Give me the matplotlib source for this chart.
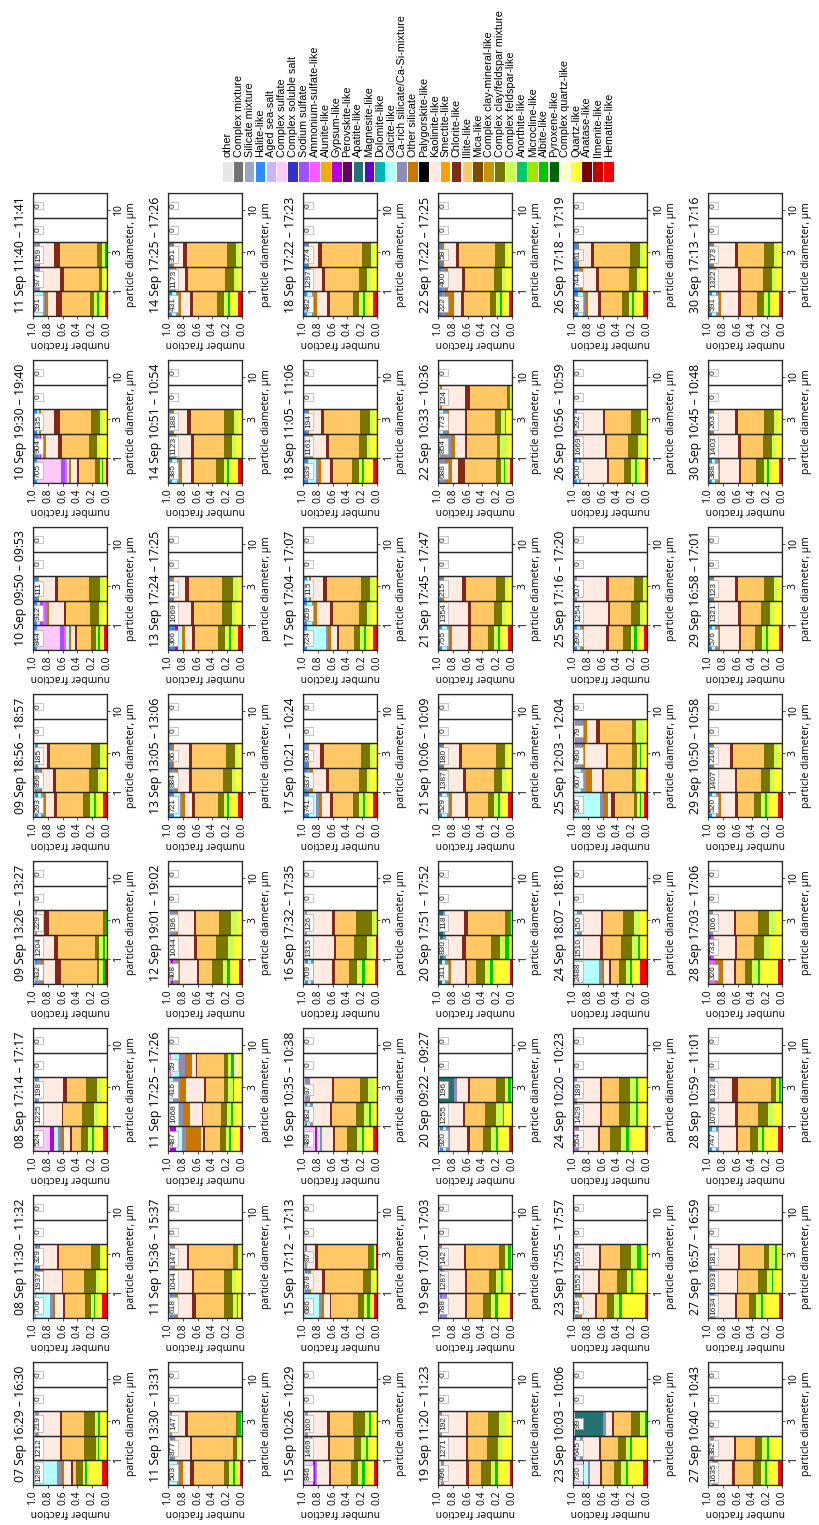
import re
import numpy as np
import matplotlib
matplotlib.use('Agg')
import matplotlib.pyplot as plt
from matplotlib.patches import Rectangle

plt.rcParams['font.family'] = ['Open Sans', 'DejaVu Sans']

# particle classes, legend order (top of each stack first)
categories = ['other', 'Complex mixture', 'Silicate mixture', 'Halite-like', 'Aged sea-salt',
              'Complex sulfate', 'Complex soluble salt', 'Sodium sulfate', 'Ammonium-sulfate-like',
              'Alunite-like', 'Gypsum-like', 'Perovskite-like', 'Apatite-like', 'Magnesite-like',
              'Dolomite-like', 'Calcite-like', 'Ca-rich silicate/Ca-Si-mixture', 'Other silicate',
              'Palygorskite-like', 'Kaolinite-like', 'Smectite-like', 'Chlorite-like', 'Illite-like',
              'Mica-like', 'Complex clay-mineral-like', 'Complex clay/feldspar mixture',
              'Complex feldspar-like', 'Anorthite-like', 'Microcline-like', 'Albite-like',
              'Pyroxene-like', 'Complex quartz-like', 'Quartz-like', 'Anatase-like', 'Ilmenite-like',
              'Hematite-like']
codes = ['oth', 'cmx', 'smx', 'hal', 'ass', 'csu', 'css', 'nas', 'ams', 'alu', 'gyp', 'per', 'apa',
         'mgs', 'dol', 'cal', 'cas', 'osi', 'pal', 'kao', 'sme', 'chl', 'ill', 'mic', 'ccm', 'cfm',
         'cfe', 'ano', 'mcl', 'alb', 'pyr', 'cqz', 'qz', 'ana', 'ilm', 'hem']
colors = ['#e6e6e6', '#737373', '#96aac8', '#2d8cff', '#c8b4ff', '#ffc8ff', '#3232c8', '#a050ff',
          '#ff5aff', '#f5aa14', '#b400e6', '#640064', '#237373', '#6400c8', '#00b4b4', '#b4ffff',
          '#8c8cb4', '#c87800', '#000000', '#ffebe1', '#ffa000', '#822814', '#ffc864', '#7d4b00',
          '#c89600', '#787800', '#c8ff50', '#00c864', '#a0e600', '#00c800', '#006400', '#ffffc8',
          '#ffff32', '#780000', '#c80000', '#ff0000']

bin_edges = [0.5, 1, 2, 4, 8, 16]

# one list per row of the sheet, eight samples each
titles_1 = ['07 Sep 16:29 – 16:30', '08 Sep 11:30 – 11:32', '08 Sep 17:14 – 17:17', '09 Sep 13:26 – 13:27',
            '09 Sep 18:56 – 18:57', '10 Sep 09:50 – 09:53', '10 Sep 19:30 – 19:40', '11 Sep 11:40 – 11:41']
titles_2 = ['11 Sep 13:30 – 13:31', '11 Sep 15:36 – 15:37', '11 Sep 17:25 – 17:26', '12 Sep 19:01 – 19:02',
            '13 Sep 13:05 – 13:06', '13 Sep 17:24 – 17:25', '14 Sep 10:51 – 10:54', '14 Sep 17:25 – 17:26']
titles_3 = ['15 Sep 10:26 – 10:29', '15 Sep 17:12 – 17:13', '16 Sep 10:35 – 10:38', '16 Sep 17:32 – 17:35',
            '17 Sep 10:21 – 10:24', '17 Sep 17:04 – 17:07', '18 Sep 11:05 – 11:06', '18 Sep 17:22 – 17:23']
titles_4 = ['19 Sep 11:20 – 11:23', '19 Sep 17:01 – 17:03', '20 Sep 09:22 – 09:27', '20 Sep 17:51 – 17:52',
            '21 Sep 10:06 – 10:09', '21 Sep 17:45 – 17:47', '22 Sep 10:33 – 10:36', '22 Sep 17:22 – 17:25']
titles_5 = ['23 Sep 10:03 – 10:06', '23 Sep 17:55 – 17:57', '24 Sep 10:20 – 10:23', '24 Sep 18:07 – 18:10',
            '25 Sep 12:03 – 12:04', '25 Sep 17:16 – 17:20', '26 Sep 10:56 – 10:59', '26 Sep 17:18 – 17:19']
titles_6 = ['27 Sep 10:40 – 10:43', '27 Sep 16:57 – 16:59', '28 Sep 10:59 – 11:01', '28 Sep 17:03 – 17:06',
            '29 Sep 10:50 – 10:58', '29 Sep 16:58 – 17:01', '30 Sep 10:45 – 10:48', '30 Sep 17:13 – 17:16']

counts_1 = [[1280, 1212, 219, 0, 0], [706, 1937, 329, 0, 0], [524, 1225, 198, 0, 0], [432, 1204, 229, 0, 0],
            [293, 896, 185, 0, 0], [844, 912, 111, 0, 0], [705, 904, 135, 0, 0], [591, 977, 159, 0, 0]]
counts_2 = [[503, 877, 147, 0, 0], [618, 1044, 147, 0, 0], [487, 1068, 416, 59, 0], [408, 1044, 196, 0, 0],
            [721, 884, 66, 0, 0], [366, 1069, 211, 0, 0], [385, 1123, 188, 0, 0], [431, 1173, 351, 0, 0]]
counts_3 = [[846, 1469, 160, 0, 0], [686, 878, 87, 0, 0], [489, 682, 87, 0, 0], [709, 1315, 126, 0, 0],
            [741, 837, 80, 0, 0], [724, 659, 115, 0, 0], [639, 1161, 194, 0, 0], [482, 1297, 274, 0, 0]]
counts_4 = [[496, 1271, 192, 0, 0], [788, 1287, 142, 0, 0], [920, 1255, 196, 0, 0], [311, 830, 118, 0, 0],
            [529, 1387, 180, 0, 0], [755, 1354, 215, 0, 0], [688, 854, 773, 124, 0], [222, 400, 58, 0, 0]]
counts_5 = [[730, 645, 99, 0, 0], [718, 1552, 169, 0, 0], [554, 1429, 189, 0, 0], [2488, 1510, 150, 0, 0],
            [950, 607, 490, 79, 0], [390, 1254, 207, 0, 0], [500, 1669, 292, 0, 0], [387, 744, 61, 0, 0]]
counts_6 = [[1635, 382, 0, 0, 0], [1634, 1933, 181, 0, 0], [747, 1070, 132, 0, 0], [326, 733, 106, 0, 0],
            [520, 1407, 216, 0, 0], [576, 1321, 123, 0, 0], [388, 1403, 263, 0, 0], [591, 1322, 173, 0, 0]]

# class composition of each size bin, percent
comp_1 = [
    ["oth2 ams1 cal28 cas5 osi4 kao8 chl3 ill3 cfm9 cfe3 alb2 qz20 hem6",
     "oth3 ams1 hal2 cas3 osi4 kao23 chl2 ill30 cfm15 cfe3 alb2 qz10",
     "oth3 cas5 kao28 chl3 ill30 cfm15 cfe4 alb2 qz10"],
    ["oth3 ams1 cal18 cas4 osi3 kao10 chl3 ill25 cfm8 cfe4 alb2 qz8 hem7",
     "oth3 gyp2 hal3 cas3 osi4 kao23 chl2 ill28 cfm15 cfe4 alb1 qz10",
     "oth3 hal2 cas3 osi2 kao22 chl3 ill43 cfm12 cfe3 qz7"],
    ["oth3 csu20 gyp5 cal6 cas4 osi3 kao8 chl3 ill12 cfm10 cfe5 alb3 qz12 hem5",
     "oth3 gyp1 hal3 cas4 osi3 kao23 chl2 ill25 cfm15 cfe5 qz12",
     "oth3 hal2 cas3 kao32 chl5 ill25 cfm15 cfe5 qz8"],
    ["oth3 hal3 cas5 osi4 kao15 chl8 ill47 cfm3 cfe5 alb3 hem3",
     "oth3 hal3 cas4 osi3 kao15 chl5 ill50 cfm5 cfe5 alb3 qz3",
     "oth3 cas2 kao10 chl7 ill73 cfm2 alb3"],
    ["oth3 hal4 cal4 cas3 osi4 kao10 chl4 ill35 cfm10 cfe5 alb3 qz10 hem5",
     "oth3 hal3 cas3 osi3 kao15 chl4 ill45 cfm12 cfe4 qz8",
     "oth3 hal2 osi2 kao12 chl4 ill55 cfm12 cfe4 qz6"],
    ["oth2 csu30 nas6 ams3 hal4 cal3 osi3 kao6 chl2 ill20 cfm6 cfe3 alb2 qz6 hem4",
     "oth2 csu4 nas3 ams3 hal4 cas3 osi3 kao20 chl3 ill32 cfm12 cfe4 qz7",
     "oth2 hal3 osi3 kao22 chl4 ill42 cfm14 cfe4 qz6"],
    ["oth2 csu33 nas5 ams3 hal4 cal3 osi3 kao7 chl3 ill22 cfm7 cfe3 alb2 qz4 hem1",
     "oth2 gyp2 nas2 ams2 cal3 hal3 osi3 kao17 chl5 ill37 cfm10 cfe4 qz10",
     "oth2 hal4 cal2 osi3 kao18 chl8 ill42 cfm11 cfe5 qz5"],
    ["oth2 ams1 cal10 cas3 osi4 kao11 chl7 ill38 cfm5 cfe4 alb2 qz8 hem3",
     "oth2 cas7 kao28 chl5 ill47 cfm4 cfe3 qz4",
     "oth2 cas7 kao20 chl8 ill50 cfm6 cfe4 alb3"],
]
comp_2 = [
    ["oth2 cal10 cas3 osi5 kao10 chl5 ill40 cfm8 cfe5 alb3 qz6 hem3",
     "oth3 hal2 cas3 osi2 kao20 chl3 ill55 cfm5 cfe3 qz4",
     "oth3 cas2 kao18 chl4 ill65 cfm3 alb3 qz2"],
    ["oth3 hal3 cas4 osi3 kao20 chl5 ill38 cfm12 cfe5 alb2 qz3 hem2",
     "oth3 hal3 cas3 osi3 kao20 chl3 ill40 cfm12 cfe5 qz8",
     "oth3 cas4 osi3 kao15 chl3 ill60 cfm6 cfe3 qz3"],
    ["oth2 gyp8 cal8 cas5 osi20 kao3 chl2 ill20 cfm8 cfe4 alb2 qz13 hem2",
     "oth2 gyp4 cal8 cas5 osi10 kao15 chl2 ill23 cfm8 cfe5 alb2 qz12",
     "oth2 cal5 cas8 osi8 kao24 chl2 ill24 cfm5 cfe6 alb2 qz10",
     "oth2 ams2 cal10 cas8 osi10 kao5 chl2 ill35 cfm6 cfe4 alb3 cqz6 qz5"],
    ["oth2 gyp2 ams2 cas6 osi3 kao22 chl3 ill17 cfm14 cfe6 alb3 qz12 hem4",
     "oth2 gyp1 cas6 osi3 kao22 chl3 ill25 cfm15 cfe6 qz12",
     "oth2 cas8 osi3 kao20 chl3 ill30 cfm15 cfe7 qz7"],
    ["oth2 hal6 cal8 cas3 osi4 kao10 chl4 ill30 cfm8 cfe5 alb3 qz12 hem5",
     "oth2 hal4 cas3 osi4 kao15 chl4 ill42 cfm12 cfe5 qz9",
     "oth2 hal3 osi3 kao20 chl5 ill45 cfm12 cfe4 qz6"],
    ["oth2 gyp4 nas3 hal5 cal5 osi4 kao10 chl4 ill30 cfm10 cfe5 alb3 qz10 hem5",
     "oth2 hal3 cas3 osi3 kao20 chl4 ill38 cfm14 cfe5 qz8",
     "oth2 hal3 osi3 kao15 chl5 ill45 cfm15 cfe5 qz7"],
    ["oth2 hal4 cal6 cas3 osi4 kao12 chl4 ill30 cfm10 cfe5 alb3 qz12 hem5",
     "oth2 hal3 cas3 osi3 kao20 chl4 ill40 cfm12 cfe5 qz8",
     "oth2 hal3 osi3 kao18 chl5 ill45 cfm13 cfe5 qz6"],
    ["oth2 hal3 cal6 cas3 osi4 kao12 chl4 ill32 cfm10 cfe5 alb3 qz11 hem5",
     "oth2 hal3 cas3 osi3 kao12 chl4 ill50 cfm12 cfe5 qz6",
     "oth2 hal3 osi3 kao12 chl5 ill55 cfm12 cfe4 qz4"],
]
comp_3 = [
    ["oth3 csu10 gyp2 cas3 kao15 chl3 ill25 cfm10 cfe5 alb3 qz12 hem4",
     "oth3 cal3 hal3 cas3 kao20 chl3 ill30 cfm10 cfe6 alb2 qz12",
     "oth3 cas3 kao25 chl3 ill30 cfm15 cfe5 alb2 qz8"],
    ["oth2 cal20 cas3 osi3 kao8 chl2 ill36 cfm8 cfe5 alb3 qz6 hem4",
     "oth3 hal2 cas3 osi2 kao15 chl3 ill50 cfm10 cfe4 qz4",
     "oth3 cas3 kao10 chl4 ill68 cfm5 alb3 qz2 hem2"],
    ["oth3 csu13 gyp2 cal4 cas3 kao14 chl3 ill15 cfm13 cfe6 alb3 qz12 hem5",
     "oth3 cal4 hal2 cas3 kao21 chl3 ill30 cfm10 cfe6 alb2 qz8",
     "oth3 cas6 kao28 chl3 ill33 cfm10 cfe8 qz4"],
    ["oth3 hal3 cal4 cas3 kao22 chl3 ill17 cfm10 cfe6 alb3 qz12 hem3",
     "oth2 cas3 kao35 chl3 ill22 cfm17 cfe6 qz6 hem1",
     "oth2 cas3 kao33 chl3 ill28 cfm20 cfe4 qz3"],
    ["oth2 hal6 cal10 cas3 osi4 kao12 chl4 ill26 cfm9 cfe5 alb3 qz11 hem5",
     "oth2 hal4 cas3 osi4 kao18 chl4 ill40 cfm11 cfe5 qz9",
     "oth2 hal3 osi3 kao15 chl5 ill50 cfm12 cfe4 qz6"],
    ["oth2 hal4 cal25 cas3 osi4 kao8 chl3 ill20 cfm8 cfe5 alb3 qz10 hem5",
     "oth2 hal4 cal6 cas3 osi4 kao18 chl4 ill35 cfm11 cfe5 qz8",
     "oth2 hal3 cal3 osi3 kao16 chl5 ill46 cfm12 cfe4 qz6"],
    ["oth2 hal5 cal10 cas3 osi4 kao12 chl4 ill26 cfm9 cfe5 alb3 qz12 hem5",
     "oth2 hal4 cas3 osi4 kao18 chl4 ill40 cfm11 cfe5 qz9",
     "oth2 hal3 osi3 kao16 chl5 ill48 cfm13 cfe4 qz6"],
    ["oth2 hal4 cal6 cas3 osi4 kao14 chl4 ill30 cfm9 cfe5 alb3 qz11 hem5",
     "oth2 hal3 cas3 osi3 kao15 chl4 ill45 cfm12 cfe5 qz8",
     "oth2 hal3 osi3 kao12 chl5 ill55 cfm12 cfe4 qz4"],
]
comp_4 = [
    ["oth4 cas4 kao28 chl3 ill16 cfm12 cfe6 alb3 qz15 hem3",
     "oth2 cas3 kao33 chl3 ill25 cfm15 cfe6 qz13",
     "oth2 cas3 kao33 chl3 ill27 cfm15 cfe7 qz10"],
    ["oth2 ams2 gyp1 hal3 cas3 kao23 chl3 ill20 cfm10 cfe6 alb3 qz15 hem3",
     "oth2 hal3 cas3 kao28 chl3 ill28 cfm10 cfe7 alb2 qz12",
     "oth2 cas3 kao30 chl3 ill45 cfm8 cfe4 alb3 qz2"],
    ["oth2 hal4 cal5 cas4 kao23 chl3 ill18 cfm10 cfe6 alb3 qz14 hem4",
     "oth3 cas4 kao25 chl3 ill25 cfm15 cfe8 alb2 qz10",
     "oth2 apa20 cas3 kao15 chl3 ill35 cfm12 cfe5 alb3 qz2"],
    ["oth2 apa3 cal4 osi5 cas4 kao18 chl3 ill13 cfm12 cfe6 alb4 qz23 hem3",
     "oth2 apa5 cas4 kao20 chl5 ill33 cfm12 cfe6 alb5 qz4",
     "oth2 apa5 cas3 kao25 chl5 ill50 cfm6 alb2 qz2"],
    ["oth2 hal4 cal6 cas3 osi4 kao18 chl4 ill26 cfm9 cfe5 alb3 qz11 hem5",
     "oth2 hal3 cas3 osi4 kao22 chl4 ill38 cfm11 cfe5 qz8",
     "oth2 hal3 osi3 kao20 chl5 ill45 cfm13 cfe4 qz5"],
    ["oth2 hal4 cal6 cas3 osi4 kao22 chl4 ill22 cfm9 cfe5 alb3 qz11 hem5",
     "oth2 hal3 cas3 osi4 kao28 chl4 ill32 cfm11 cfe5 qz8",
     "oth2 hal3 osi3 kao25 chl5 ill40 cfm13 cfe4 qz5"],
    ["oth2 cas7 osi10 kao8 chl10 ill42 cfm6 cfe4 alb2 qz6 hem3",
     "oth2 cas15 osi5 kao13 chl3 ill38 cfm5 cfe10 qz5",
     "oth2 cal5 cas5 osi3 kao22 chl2 ill38 cfm8 cfe5 alb2 qz8",
     "oth3 kao30 osi3 chl7 ill50 cfm4 cfe3"],
    ["oth2 hal4 cas3 osi12 kao10 chl4 ill35 cfm9 cfe5 alb3 qz9 hem4",
     "oth2 hal4 cas3 osi5 kao18 chl4 ill40 cfm11 cfe5 qz8",
     "oth2 hal3 osi3 kao16 chl5 ill48 cfm13 cfe4 qz6"],
]
comp_5 = [
    ["oth3 csu10 gyp2 cal5 cas3 kao13 chl3 ill16 cfm10 cfe6 alb3 qz21 hem5",
     "oth2 gyp2 cal5 cas4 kao22 chl3 ill23 cfm10 cfe6 alb3 qz20",
     "oth3 apa37 cas5 kao8 chl3 ill22 cfm12 cfe7 alb3"],
    ["oth3 hal4 osi5 kao18 chl3 ill13 cfm10 cfe6 alb4 qz31 hem3",
     "oth3 cas3 kao28 chl3 ill23 cfm13 cfe6 alb2 qz19",
     "oth3 cas4 kao28 chl3 ill25 cfm15 cfe8 alb6 qz8"],
    ["oth2 ams2 cas4 kao26 chl3 ill13 cfm15 cfe6 alb4 qz22 hem3",
     "oth2 cas4 kao30 chl3 ill23 cfm15 cfe8 alb3 qz12",
     "oth2 cas4 kao30 chl3 ill23 cfm15 cfe8 alb3 qz12"],
    ["oth2 cal33 cas4 osi3 kao7 chl3 ill10 cfm10 cfe5 alb3 qz10 hem10",
     "oth2 cas10 kao25 chl3 ill25 cfm15 cfe8 alb2 qz10",
     "oth2 cal4 cas6 kao26 chl3 ill27 cfm15 cfe8 qz9"],
    ["oth4 cal33 cas3 osi7 kao5 chl5 ill25 cfm5 cfe3 alb2 qz4 hem4",
     "oth2 cas7 cal8 osi8 kao12 chl3 ill37 cfm5 cfe5 qz8 hem1",
     "oth2 cas10 osi3 kao27 chl3 ill30 cfm6 cfe4 alb2 qz7",
     "oth2 ams1 cas10 osi5 kao13 chl5 ill42 cfm5 cfe10 qz5"],
    ["oth2 hal3 cal4 cas3 osi3 kao30 chl3 ill20 cfm10 cfe5 alb3 qz10 hem4",
     "oth2 hal2 cas3 kao40 chl3 ill28 cfm12 cfe5 qz5",
     "oth2 cas3 kao40 chl4 ill33 cfm12 cfe4 qz2"],
    ["oth2 hal3 cal3 cas3 kao35 chl3 ill20 cfm10 cfe5 alb3 qz10 hem3",
     "oth2 cas3 kao38 chl3 ill28 cfm14 cfe5 qz7",
     "oth2 cas3 kao35 chl3 ill35 cfm14 cfe5 qz3"],
    ["oth2 hal5 cal6 cas3 osi4 kao14 chl4 ill28 cfm9 cfe5 alb3 qz12 hem5",
     "oth2 hal4 cas3 osi4 kao18 chl4 ill40 cfm11 cfe5 qz9",
     "oth2 hal3 osi3 kao16 chl5 ill48 cfm13 cfe4 qz6"],
]
comp_6 = [
    ["oth2 cal4 cas4 osi3 kao20 chl3 ill25 cfm10 cfe6 alb3 qz15 hem5",
     "oth3 cas5 kao27 chl3 ill25 cfm10 cfe7 alb3 qz17"],
    ["oth3 hal2 cas4 kao27 chl3 ill16 cfm10 cfe6 alb3 qz22 hem4",
     "oth3 hal2 cas4 kao30 chl2 ill27 cfm12 cfe6 alb2 qz12",
     "oth2 cas3 kao35 chl3 ill33 cfm7 cfe7 alb3 qz7"],
    ["oth2 hal4 cal5 cas4 kao23 chl3 ill16 cfm10 cfe6 alb3 qz19 hem5",
     "oth2 hal3 cas4 kao28 chl3 ill27 cfm14 cfe7 qz12",
     "oth3 cas7 kao23 chl8 ill44 cfm7 cfe4 alb2 qz2"],
    ["oth2 ams8 osi10 kao15 chl3 ill12 cfm10 cfe7 alb3 qz25 hem5",
     "oth2 gyp2 cas4 kao28 chl3 ill23 cfm13 cfe7 qz18",
     "oth2 cas5 kao28 chl3 ill30 cfm15 cfe8 qz9"],
    ["oth2 hal4 cal5 cas3 osi3 kao20 chl3 ill22 cfm10 cfe5 alb3 qz15 hem5",
     "oth2 hal3 cas3 osi3 kao25 chl3 ill33 cfm12 cfe5 qz11",
     "oth2 hal3 osi3 kao22 chl4 ill42 cfm13 cfe5 qz6"],
    ["oth2 hal4 cal4 cas3 osi3 kao26 chl3 ill18 cfm10 cfe5 alb3 qz15 hem4",
     "oth2 hal3 cas3 osi3 kao30 chl3 ill28 cfm12 cfe5 qz11",
     "oth2 hal3 osi3 kao28 chl4 ill36 cfm13 cfe5 qz6"],
    ["oth2 hal4 cal4 cas3 osi3 kao26 chl3 ill20 cfm10 cfe5 alb3 qz13 hem4",
     "oth2 hal3 cas3 osi3 kao30 chl3 ill30 cfm12 cfe5 qz9",
     "oth2 hal3 osi3 kao28 chl4 ill36 cfm13 cfe5 qz6"],
    ["oth2 hal4 cal5 cas3 osi3 kao24 chl3 ill22 cfm10 cfe5 alb3 qz12 hem4",
     "oth2 hal3 cas3 osi3 kao30 chl3 ill30 cfm12 cfe5 qz9",
     "oth2 hal3 osi3 kao28 chl4 ill36 cfm13 cfe5 qz6"],
]

titles = [titles_1, titles_2, titles_3, titles_4, titles_5, titles_6]
counts = [counts_1, counts_2, counts_3, counts_4, counts_5, counts_6]
comps = [comp_1, comp_2, comp_3, comp_4, comp_5, comp_6]
color_of = dict(zip(codes, colors))


def parse(s):
    out = {}
    for code, val in re.findall(r'([a-z]+)(\d+)', s):
        out[code] = float(val)
    return out


W, H = 819, 1525
fig = plt.figure(figsize=(W / 100, H / 100), dpi=100)

# panel geometry in pixels (figure is laid out turned on its side)
box_w, box_h = 74, 123
x0, dx = 33, 135
y0, dy = 193, 167

for r in range(6):
    for j in range(8):
        left = x0 + dx * r
        top = y0 + dy * (7 - j)
        ax = fig.add_axes([left / W, 1 - (top + box_h) / H, box_w / W, box_h / H])
        ax.set_yscale('log')
        ax.set_ylim(bin_edges[0], bin_edges[-1])
        ax.set_xlim(1, 0)
        for b, s in enumerate(comps[r][j]):
            vals = parse(s)
            tot = sum(vals.values())
            cum = 0.0
            for code in reversed(codes):
                if code in vals:
                    f = vals[code] / tot
                    ax.barh(bin_edges[b], f, height=bin_edges[b + 1] - bin_edges[b], left=cum,
                            align='edge', color=color_of[code], linewidth=0)
                    cum += f
        for b in range(5):
            e0, e1 = bin_edges[b], bin_edges[b + 1]
            ax.barh(e0, 1, height=e1 - e0, left=0, align='edge', fill=False,
                    edgecolor='#2a2a2a', linewidth=0.9)
            ax.text(0.925, np.sqrt(e0 * e1), str(counts[r][j][b]), rotation=90, ha='center',
                    va='center', fontsize=6, family='Liberation Sans', color='#222222',
                    bbox=dict(boxstyle='square,pad=0.15', fc='white', ec='#9a9a9a', lw=0.4))
        ax.set_xticks([0, 0.2, 0.4, 0.6, 0.8, 1.0])
        ax.set_xticklabels(['0.0', '0.2', '0.4', '0.6', '0.8', '1.0'], rotation=90, fontsize=7.5)
        ax.yaxis.tick_right()
        ax.yaxis.set_label_position('right')
        ax.set_yticks([1, 3, 10])
        ax.set_yticklabels(['1', '3', '10'], rotation=90, fontsize=7.5, va='center')
        ax.minorticks_off()
        ax.tick_params(length=2.5, width=0.6, pad=1.5, colors='#333333')
        ax.tick_params(labelcolor='black')
        ax.set_xlabel('number fraction', rotation=180, fontsize=7.5, labelpad=1)
        ax.set_ylabel('particle diameter, µm', rotation=90, fontsize=7.5, labelpad=2)
        for sp in ax.spines.values():
            sp.set_color('#2a2a2a')
            sp.set_linewidth(0.9)
        ax.text(-0.08, 0.5, titles[r][j], transform=ax.transAxes, rotation=90, ha='right',
                va='center', fontsize=8.8)

# legend drawn as a column of swatches along the top edge
lx0, ldx = 223, 10.89
for i, (name, col) in enumerate(zip(categories, colors)):
    x = lx0 + ldx * i
    fig.patches.append(Rectangle((x / W, 1 - 182 / H), 9.6 / W, 20 / H, transform=fig.transFigure,
                                 facecolor=col, edgecolor='none'))
    fig.text((x + 4.8) / W, 1 - 157 / H, name, rotation=90, ha='center', va='bottom',
             fontsize=7.8, family='Liberation Sans')

fig.savefig('out.png', dpi=100, facecolor='white')
